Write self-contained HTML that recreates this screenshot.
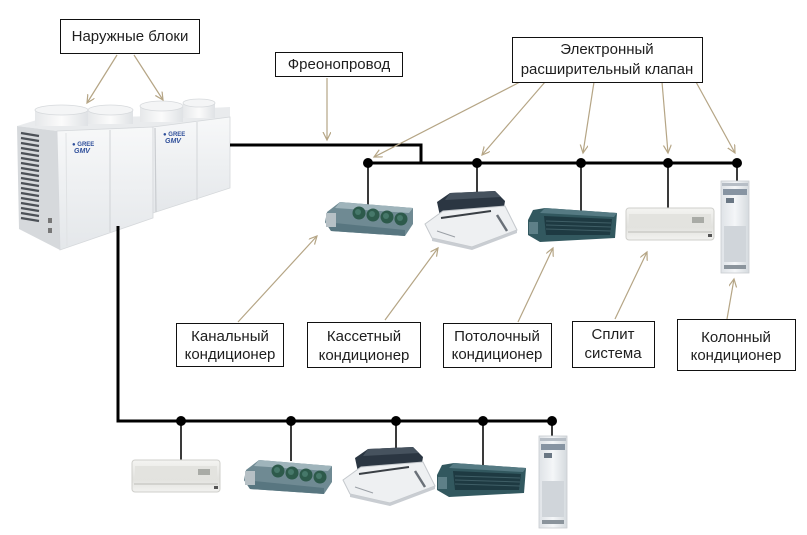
<!DOCTYPE html>
<html><head><meta charset="utf-8">
<style>
html,body{margin:0;padding:0;background:#fff;}
svg{display:block;}
text{font-family:"Liberation Sans",Arial,sans-serif;font-size:15px;fill:#1e1e1e;}
</style></head>
<body>
<svg width="807" height="535" viewBox="0 0 807 535" xmlns="http://www.w3.org/2000/svg">
<defs>
  <marker id="ah" markerWidth="10" markerHeight="10" refX="8" refY="4" orient="auto" markerUnits="userSpaceOnUse">
    <path d="M0,0 L8,4 L0,8" fill="none" stroke="#b5a585" stroke-width="1.2"/>
  </marker>
  <linearGradient id="front" x1="0" y1="0" x2="0" y2="1">
    <stop offset="0" stop-color="#f7f8f9"/><stop offset="1" stop-color="#e4e7ea"/>
  </linearGradient>
  <linearGradient id="cyl" x1="0" y1="0" x2="1" y2="0">
    <stop offset="0" stop-color="#e6e8ea"/><stop offset="0.5" stop-color="#fbfbfb"/><stop offset="1" stop-color="#dfe2e5"/>
  </linearGradient>
  <linearGradient id="splitgrad" x1="0" y1="0" x2="0" y2="1">
    <stop offset="0" stop-color="#f4f4f2"/><stop offset="0.6" stop-color="#e2e2de"/><stop offset="1" stop-color="#f2f2f0"/>
  </linearGradient>
  <linearGradient id="colgrad" x1="0" y1="0" x2="1" y2="0">
    <stop offset="0" stop-color="#dfe3e7"/><stop offset="0.5" stop-color="#f4f6f8"/><stop offset="1" stop-color="#d5dade"/>
  </linearGradient>

  <g id="ductfan">
    <polygon points="2,12 15,2 88,8 88,24 80,36 6,31 0,22" fill="#6f8a93"/>
    <polygon points="15,2 88,8 84,13 10,8" fill="#9fb4bb"/>
    <polygon points="0,22 80,30 80,36 6,31" fill="#587680"/>
    <rect x="1" y="13" width="10" height="14" fill="#b6c0c5"/>
    <circle cx="34" cy="13" r="6.5" fill="#2d5a4b"/>
    <circle cx="48" cy="15" r="6.5" fill="#2d5a4b"/>
    <circle cx="62" cy="17" r="6.5" fill="#2d5a4b"/>
    <circle cx="76" cy="19" r="6.5" fill="#2d5a4b"/>
    <circle cx="33" cy="12" r="3" fill="#46786a"/>
    <circle cx="47" cy="14" r="3" fill="#46786a"/>
    <circle cx="61" cy="16" r="3" fill="#46786a"/>
    <circle cx="75" cy="18" r="3" fill="#46786a"/>
  </g>

  <g id="cassette">
    <polygon points="12,11 25,2 70,0 80,10 78,22 15,25" fill="#2b3642"/>
    <polygon points="25,2 70,0 76,6 20,9" fill="#46525e"/>
    <polygon points="0,33 18,20 80,15 92,39 47,56 7,47" fill="#eef0f2" stroke="#c4c8cc" stroke-width="1"/>
    <polygon points="7,47 47,56 92,39 92,42 47,59 7,50" fill="#c9cdd2"/>
    <line x1="16" y1="27" x2="66" y2="20" stroke="#3a3f45" stroke-width="2"/>
    <line x1="72" y1="24" x2="82" y2="40" stroke="#6a7078" stroke-width="2.5"/>
    <line x1="12" y1="40" x2="30" y2="46" stroke="#9aa0a6" stroke-width="1"/>
  </g>

  <g id="ceilduct">
    <polygon points="5,2 17,0 89,5 87,30 12,34 0,27 0,12" fill="#32585f"/>
    <polygon points="17,0 89,5 86,9 12,5" fill="#557a83"/>
    <polygon points="16,8 84,11 82,27 18,27" fill="#1e3a42"/>
    <line x1="18" y1="13" x2="83" y2="15" stroke="#3f5e66" stroke-width="1"/>
    <line x1="18" y1="17" x2="83" y2="19" stroke="#3f5e66" stroke-width="1"/>
    <line x1="18" y1="21" x2="83" y2="23" stroke="#3f5e66" stroke-width="1"/>
    <rect x="1" y="14" width="9" height="12" fill="#5e8088"/>
  </g>

  <g id="splitunit">
    <rect x="0" y="0" width="88" height="32" rx="3" fill="url(#splitgrad)" stroke="#cfcfcb" stroke-width="1"/>
    <rect x="3" y="6" width="82" height="12" fill="#e3e3df"/>
    <line x1="2" y1="24" x2="86" y2="24" stroke="#bdbdb8" stroke-width="1"/>
    <rect x="66" y="9" width="12" height="6" fill="#a9aba6"/>
    <rect x="82" y="26" width="4" height="3" fill="#555"/>
  </g>

  <g id="columnunit">
    <rect x="0" y="0" width="28" height="92" fill="url(#colgrad)" stroke="#c8ccd0" stroke-width="0.8"/>
    <rect x="1" y="2" width="26" height="3" fill="#b7bec6"/>
    <rect x="2" y="8" width="24" height="6" fill="#8794a2"/>
    <rect x="5" y="17" width="8" height="5" fill="#6a7784"/>
    <rect x="3" y="45" width="22" height="36" fill="#d0d5da"/>
    <rect x="3" y="84" width="22" height="4" fill="#8b949c"/>
  </g>
</defs>

<rect width="807" height="535" fill="#fff"/>

<!-- Outdoor units -->
<polygon points="17,126 40,119 153,116 153,127 57,131" fill="#e9ebed"/>
<polygon points="17,126 57,131 60,250 19,229" fill="#d6d9dc"/>
<g stroke="#4c5157" stroke-width="2.2">
  <line x1="21" y1="133" x2="39" y2="136"/><line x1="21" y1="138" x2="39" y2="141"/>
  <line x1="21" y1="143" x2="39" y2="146"/><line x1="21" y1="148" x2="39" y2="151"/>
  <line x1="21" y1="153" x2="39" y2="156"/><line x1="21" y1="158" x2="39" y2="161"/>
  <line x1="21" y1="163" x2="39" y2="166"/><line x1="21" y1="168" x2="39" y2="171"/>
  <line x1="21" y1="173" x2="39" y2="176"/><line x1="21" y1="178" x2="39" y2="181"/>
  <line x1="21" y1="183" x2="39" y2="186"/><line x1="21" y1="188" x2="39" y2="191"/>
  <line x1="21" y1="193" x2="39" y2="196"/><line x1="21" y1="198" x2="39" y2="201"/>
  <line x1="21" y1="203" x2="39" y2="206"/><line x1="21" y1="208" x2="39" y2="211"/>
  <line x1="21" y1="213" x2="39" y2="216"/><line x1="21" y1="218" x2="39" y2="221"/>
</g>
<rect x="48" y="218" width="4" height="5" fill="#777"/>
<rect x="48" y="228" width="4" height="5" fill="#777"/>
<polygon points="57,131 153,127 153,218 60,250" fill="url(#front)" stroke="#d5d8db" stroke-width="0.8"/>
<line x1="110" y1="130" x2="110" y2="232" stroke="#d0d3d6" stroke-width="1"/>
<line x1="66" y1="133" x2="67" y2="246" stroke="#e0e2e4" stroke-width="1"/>
<text x="72" y="146" style="font-size:6px;fill:#2f4f9a;font-weight:bold;">● GREE</text>
<text x="74" y="153" style="font-size:7px;fill:#2f4f9a;font-weight:bold;font-style:italic;">GMV</text>
<polygon points="153,116 170,110 230,107 230,117 153,127" fill="#e9ebed"/>
<polygon points="153,127 230,117 230,188 153,213" fill="url(#front)" stroke="#d5d8db" stroke-width="0.8"/>
<line x1="197" y1="122" x2="197" y2="200" stroke="#d3d6d9" stroke-width="1"/>
<line x1="155" y1="128" x2="156" y2="212" stroke="#c9ccd0" stroke-width="1.2"/>
<text x="163" y="136" style="font-size:6px;fill:#2f4f9a;font-weight:bold;">● GREE</text>
<text x="165" y="143" style="font-size:7px;fill:#2f4f9a;font-weight:bold;font-style:italic;">GMV</text>
<rect x="35" y="110" width="53" height="16" fill="url(#cyl)"/>
<ellipse cx="61.5" cy="110" rx="26.5" ry="5" fill="#f4f5f6" stroke="#d6d9dc" stroke-width="0.8"/>
<rect x="88" y="110" width="45" height="14" fill="url(#cyl)"/>
<ellipse cx="110.5" cy="110" rx="22.5" ry="5" fill="#f4f5f6" stroke="#d6d9dc" stroke-width="0.8"/>
<rect x="140" y="106" width="43" height="16" fill="url(#cyl)"/>
<ellipse cx="161.5" cy="106" rx="21.5" ry="5" fill="#f4f5f6" stroke="#d6d9dc" stroke-width="0.8"/>
<rect x="183" y="103" width="32" height="15" fill="url(#cyl)"/>
<ellipse cx="199" cy="103" rx="16" ry="4" fill="#f4f5f6" stroke="#d6d9dc" stroke-width="0.8"/>

<!-- Pipes -->
<polyline points="230,145 421,145 421,163" fill="none" stroke="#000" stroke-width="3"/>
<line x1="368" y1="163" x2="737" y2="163" stroke="#000" stroke-width="3"/>
<polyline points="118,226 118,421 552,421" fill="none" stroke="#000" stroke-width="3"/>

<g stroke="#3a3a3a" stroke-width="2">
  <line x1="368" y1="163" x2="368" y2="207"/>
  <line x1="477" y1="163" x2="477" y2="194"/>
  <line x1="581" y1="163" x2="581" y2="212"/>
  <line x1="668" y1="163" x2="668" y2="209"/>
  <line x1="737" y1="163" x2="737" y2="182"/>
  <line x1="181" y1="421" x2="181" y2="461"/>
  <line x1="291" y1="421" x2="291" y2="461"/>
  <line x1="396" y1="421" x2="396" y2="451"/>
  <line x1="483" y1="421" x2="483" y2="467"/>
  <line x1="552" y1="421" x2="552" y2="437"/>
</g>

<!-- Indoor units top -->
<use href="#ductfan" x="325" y="200"/>
<use href="#cassette" x="425" y="191"/>
<use href="#ceilduct" x="528" y="208"/>
<use href="#splitunit" x="626" y="208"/>
<use href="#columnunit" x="721" y="181"/>

<!-- Indoor units bottom -->
<use href="#splitunit" x="132" y="460"/>
<use href="#ductfan" x="244" y="458"/>
<use href="#cassette" x="343" y="447"/>
<use href="#ceilduct" x="437" y="463"/>
<use href="#columnunit" x="539" y="436"/>

<g fill="#000">
  <circle cx="368" cy="163" r="5"/><circle cx="477" cy="163" r="5"/>
  <circle cx="581" cy="163" r="5"/><circle cx="668" cy="163" r="5"/>
  <circle cx="737" cy="163" r="5"/>
  <circle cx="181" cy="421" r="5"/><circle cx="291" cy="421" r="5"/>
  <circle cx="396" cy="421" r="5"/><circle cx="483" cy="421" r="5"/>
  <circle cx="552" cy="421" r="5"/>
</g>

<!-- Arrows -->
<g stroke="#b5a585" stroke-width="1.2" fill="none" marker-end="url(#ah)">
  <line x1="117" y1="55" x2="87" y2="103"/>
  <line x1="134" y1="55" x2="163" y2="100"/>
  <line x1="327" y1="78" x2="327" y2="140"/>
  <line x1="520" y1="82" x2="374" y2="157"/>
  <line x1="545" y1="82" x2="482" y2="155"/>
  <line x1="594" y1="82" x2="583" y2="153"/>
  <line x1="662" y1="82" x2="668" y2="153"/>
  <line x1="696" y1="82" x2="735" y2="153"/>
  <line x1="238" y1="322" x2="317" y2="236"/>
  <line x1="385" y1="320" x2="438" y2="248"/>
  <line x1="518" y1="322" x2="553" y2="248"/>
  <line x1="615" y1="319" x2="647" y2="252"/>
  <line x1="727" y1="319" x2="734" y2="279"/>
</g>

<!-- Labels -->
<g fill="#fff" stroke="#111" stroke-width="1">
  <rect x="60.5" y="19.5" width="139" height="34"/>
  <rect x="275.5" y="52.5" width="127" height="24"/>
  <rect x="512.5" y="37.5" width="190" height="45"/>
  <rect x="176.5" y="323.5" width="107" height="43"/>
  <rect x="307.5" y="322.5" width="113" height="45"/>
  <rect x="443.5" y="323.5" width="108" height="44"/>
  <rect x="572.5" y="321.5" width="82" height="46"/>
  <rect x="677.5" y="319.5" width="118" height="51"/>
</g>
<g text-anchor="middle">
  <text x="130" y="41">Наружные блоки</text>
  <text x="339" y="69">Фреонопровод</text>
  <text x="607" y="54">Электронный</text>
  <text x="607" y="74">расширительный клапан</text>
  <text x="230" y="341">Канальный</text>
  <text x="230" y="359">кондиционер</text>
  <text x="364" y="341">Кассетный</text>
  <text x="364" y="360">кондиционер</text>
  <text x="497" y="341">Потолочный</text>
  <text x="497" y="359">кондиционер</text>
  <text x="613" y="339">Сплит</text>
  <text x="613" y="358">система</text>
  <text x="736" y="342">Колонный</text>
  <text x="736" y="360">кондиционер</text>
</g>
</svg>
</body></html>
